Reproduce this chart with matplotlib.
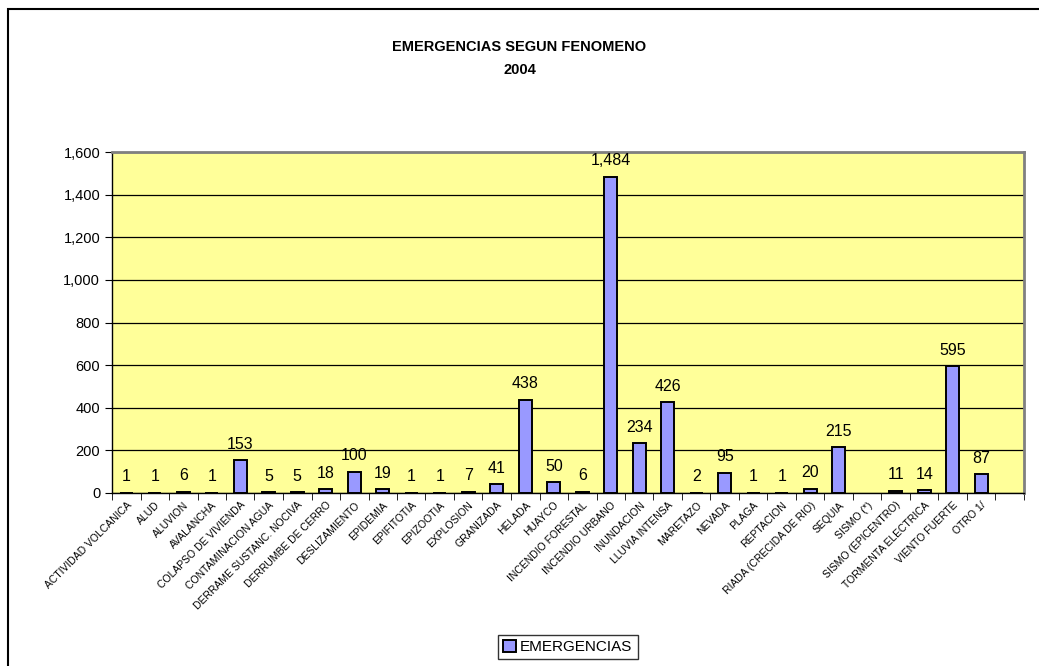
"""Emergencias segun fenomeno, 2004 - bar chart recreation."""

import numpy as np
import matplotlib
matplotlib.use("Agg")
import matplotlib.pyplot as plt
from matplotlib.patches import Rectangle
from matplotlib.ticker import FuncFormatter, FixedLocator


categories = [
    "ACTIVIDAD VOLCANICA", "ALUD", "ALUVION", "AVALANCHA", "COLAPSO DE VIVIENDA",
    "CONTAMINACION AGUA", "DERRAME SUSTANC. NOCIVA", "DERRUMBE DE CERRO",
    "DESLIZAMIENTO", "EPIDEMIA", "EPIFITOTIA", "EPIZOOTIA", "EXPLOSION",
    "GRANIZADA", "HELADA", "HUAYCO", "INCENDIO FORESTAL", "INCENDIO URBANO",
    "INUNDACION", "LLUVIA INTENSA", "MARETAZO", "NEVADA", "PLAGA", "REPTACION",
    "RIADA (CRECIDA DE RIO)", "SEQUIA", "SISMO (*)", "SISMO (EPICENTRO)",
    "TORMENTA ELECTRICA", "VIENTO FUERTE", "OTRO 1/", "",
]
emergencias = [
    1, 1, 6, 1, 153, 5, 5, 18, 100, 19, 1, 1, 7, 41, 438, 50, 6, 1484,
    234, 426, 2, 95, 1, 1, 20, 215, np.nan, 11, 14, 595, 87, np.nan,
]
y_ticks = [0, 200, 400, 600, 800, 1000, 1200, 1400, 1600]

FONT = ["Liberation Sans Narrow", "Liberation Sans", "DejaVu Sans"]
plt.rcParams["font.family"] = FONT

fig = plt.figure(figsize=(10.39, 6.66), dpi=100)
fig.patches.append(Rectangle((8 / 1039, -0.1), 2.0, 1.1 - 9 / 666,
                             transform=fig.transFigure, fill=False,
                             edgecolor="black", linewidth=1.5))

ax = fig.add_axes([112 / 1039, 1 - 493 / 666, (1024 - 112) / 1039, (493 - 152) / 666])
ax.set_facecolor("#FFFF99")

x = np.arange(len(categories))
values = np.array(emergencias, dtype=float)
bars = ax.bar(x, np.nan_to_num(values), width=0.45, color="#9999FF",
              edgecolor="black", linewidth=1.4, zorder=3, label="EMERGENCIAS")
for xi, v in zip(x, values):
    if np.isnan(v):
        bars[xi].set_visible(False)
        continue
    ax.annotate(f"{int(v):,}", (xi, v), xytext=(0, 6), textcoords="offset points",
                ha="center", va="bottom", fontsize=11.5)

ax.set_xlim(-0.5, len(categories) - 0.5)
ax.set_ylim(0, 1600)
ax.yaxis.set_major_locator(FixedLocator(y_ticks))
ax.yaxis.set_major_formatter(FuncFormatter(lambda v, p: f"{int(v):,}"))
ax.grid(axis="y", color="black", linewidth=0.9, zorder=1)
ax.tick_params(axis="y", labelsize=10.5, length=5, direction="out")

ax.set_xticks(x)
ax.set_xticklabels(categories, rotation=45, ha="right", rotation_mode="anchor", fontsize=7.5)
ax.tick_params(axis="x", which="major", length=0, pad=5)
ax.set_xticks(np.arange(-0.5, len(categories)), minor=True)
ax.tick_params(axis="x", which="minor", length=5, direction="out")

for side in ("top", "right"):
    ax.spines[side].set_color("#808080")
    ax.spines[side].set_linewidth(2)
for side in ("left", "bottom"):
    ax.spines[side].set_color("black")
    ax.spines[side].set_linewidth(1)

fig.text(0.5, 1 - 47 / 666, "EMERGENCIAS SEGUN FENOMENO", ha="center", va="center",
         fontsize=10.5, fontweight="bold")
fig.text(0.5, 1 - 70 / 666, "2004", ha="center", va="center",
         fontsize=10.5, fontweight="bold")

leg = fig.legend(handles=[bars], labels=["EMERGENCIAS"], loc="center",
                 bbox_to_anchor=(568 / 1039, 1 - 647 / 666), fontsize=11,
                 frameon=True, fancybox=False, handlelength=0.8, handleheight=0.8,
                 handletextpad=0.3, borderpad=0.35)
leg.get_frame().set_edgecolor("black")
leg.get_frame().set_linewidth(1)

fig.savefig("out.png", dpi=100)
